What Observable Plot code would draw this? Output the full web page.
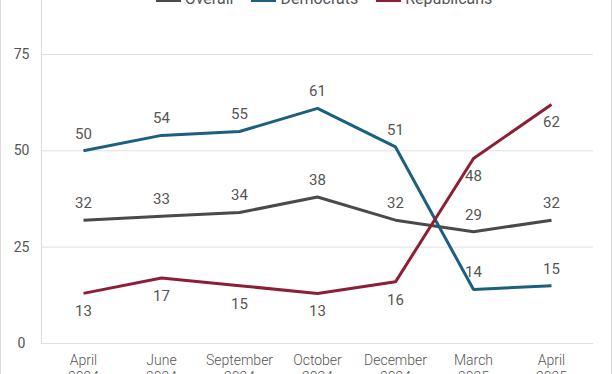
<!DOCTYPE html>
<html>
<head>
<meta charset="utf-8">
<script src="https://cdn.jsdelivr.net/npm/d3@7"></script>
<script src="https://cdn.jsdelivr.net/npm/@observablehq/plot@0.6"></script>
<style>
  html, body { margin: 0; padding: 0; background: #fff; overflow: hidden; }
  #wrap { position: relative; width: 610px; height: 374px; border-left: 1px solid #dcdcdc; border-right: 1px solid #dcdcdc; overflow: hidden; font-family: Roboto, sans-serif; }
  #legend { position: absolute; top: -10px; left: 18px; width: 610px; display: flex; justify-content: center; gap: 18px; font-size: 16px; color: #555; line-height: 18px; }
  #legend .item { display: flex; align-items: center; gap: 4px; }
  #legend .sw { width: 25px; height: 3px; display: inline-block; position: relative; top: 1px; }
  #chart { position: absolute; top: 0; left: 0; }
</style>
</head>
<body>
<div id="wrap">
  <div id="chart"></div>
  <div id="legend"></div>
</div>
<script>
const months = ["April\n2024", "June\n2024", "September\n2024", "October\n2024", "December\n2024", "March\n2025", "April\n2025"];
const seriesNames = ["Overall", "Democrats", "Republicans"];
const overall = [32, 33, 34, 38, 32, 29, 32];
const democrats = [50, 54, 55, 61, 51, 14, 15];
const republicans = [13, 17, 15, 13, 16, 48, 62];
const colors = ["#4a4a4a", "#1d5f7f", "#8c1f35"];
const yTicks = [0, 25, 50, 75];

const seriesValues = [overall, democrats, republicans];
const data = [];
seriesNames.forEach((s, i) => {
  seriesValues[i].forEach((v, j) => data.push({series: s, month: months[j], value: v}));
});

const color = {domain: seriesNames, range: colors};

const chart = Plot.plot({
  width: 610,
  height: 374,
  marginLeft: 40,
  marginRight: 18,
  marginTop: 0,
  marginBottom: 31,
  style: {fontFamily: "Roboto, sans-serif", fontSize: "14px", color: "#555", background: "#fff"},
  x: {type: "point", domain: months, padding: 0.5},
  y: {domain: [0, 89]},
  color,
  marks: [
    Plot.gridY(yTicks, {stroke: "#e0e0e0", strokeOpacity: 1, strokeWidth: 1}),
    Plot.frame({anchor: "left", stroke: "#dedede"}),
    Plot.axisY(yTicks, {tickSize: 0, tickPadding: 20, textAnchor: "middle", fill: "#555", fontSize: 14, label: null}),
    Plot.axisX({tickSize: 0, tickPadding: 10, fill: "#555", fontSize: 14, fontWeight: 300, lineHeight: 1.2, label: null}),
    Plot.line(data, {x: "month", y: "value", z: "series", stroke: "series", strokeWidth: 3, strokeLinejoin: "miter", strokeLinecap: "butt"}),
    Plot.text(data.filter(d => d.series !== "Republicans"), {x: "month", y: "value", text: d => String(d.value), dy: -17, fill: "#555", fontSize: 15}),
    Plot.text(data.filter(d => d.series === "Republicans"), {x: "month", y: "value", text: d => String(d.value), dy: 18, fill: "#555", fontSize: 15})
  ]
});
document.getElementById("chart").appendChild(chart);

const legend = document.getElementById("legend");
seriesNames.forEach((s, i) => {
  const item = document.createElement("span");
  item.className = "item";
  const sw = document.createElement("span");
  sw.className = "sw";
  sw.style.background = colors[i];
  const t = document.createElement("span");
  t.textContent = s;
  item.appendChild(sw);
  item.appendChild(t);
  legend.appendChild(item);
});
</script>
</body>
</html>
